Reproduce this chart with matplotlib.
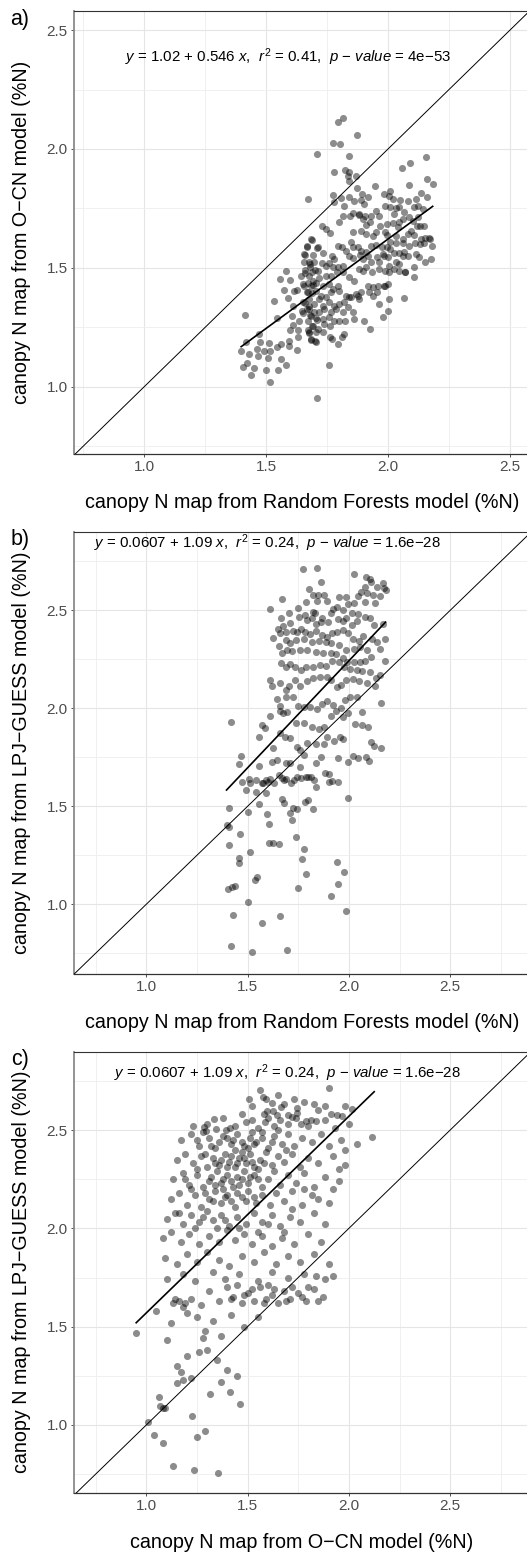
import matplotlib
matplotlib.use("Agg")
import matplotlib.pyplot as plt
from matplotlib.ticker import MultipleLocator

plt.rcParams['font.family'] = ['Liberation Sans', 'DejaVu Sans']
plt.rcParams['mathtext.fontset'] = 'custom'
plt.rcParams['mathtext.rm'] = 'Liberation Sans'
plt.rcParams['mathtext.it'] = 'Liberation Sans:italic'

# ---------------- panel a: Random Forests (x) vs O-CN (y) ----------------
a_pts = [
    (1.709, 1.98), (1.673, 1.791), (1.414, 1.303), (1.398, 1.153), (1.417, 1.188), (1.462, 1.16),
    (1.474, 1.19), (1.471, 1.221), (1.429, 1.137), (1.406, 1.085), (1.421, 1.099), (1.44, 1.05),
    (1.449, 1.078), (1.466, 1.132), (1.5, 1.069), (1.507, 1.12), (1.516, 1.02), (1.514, 1.183),
    (1.492, 1.153), (1.516, 1.153), (1.551, 1.071), (1.561, 1.118), (1.546, 1.167), (1.583, 1.092),
    (1.626, 1.155), (1.596, 1.172), (1.593, 1.195), (1.56, 1.179), (1.544, 1.289), (1.533, 1.363),
    (1.557, 1.454), (1.582, 1.487), (1.574, 1.406), (1.598, 1.448), (1.592, 1.374), (1.628, 1.408),
    (1.616, 1.402), (1.612, 1.338), (1.608, 1.296), (1.634, 1.279), (1.598, 1.239), (1.612, 1.261),
    (1.63, 1.239), (1.633, 1.211), (1.65, 1.31), (1.668, 1.328), (1.68, 1.303), (1.66, 1.354),
    (1.678, 1.338), (1.667, 1.401), (1.687, 1.394), (1.657, 1.426), (1.673, 1.438), (1.694, 1.429),
    (1.66, 1.478), (1.68, 1.506), (1.701, 1.492), (1.66, 1.555), (1.68, 1.517), (1.669, 1.59),
    (1.69, 1.618), (1.71, 1.583), (1.673, 1.239), (1.687, 1.258), (1.708, 1.282), (1.705, 1.19),
    (1.686, 1.197), (1.676, 1.225), (1.71, 0.955),
    (1.796, 2.115), (1.815, 2.129), (1.872, 2.06), (1.775, 2.025), (1.803, 2.02), (1.842, 1.972),
    (1.78, 1.905), (1.825, 1.913), (1.842, 1.905), (1.835, 1.885), (1.842, 1.867), (1.869, 1.885),
    (1.948, 1.846), (1.775, 1.808), (1.807, 1.793), (1.777, 1.776), (1.842, 1.798), (1.862, 1.783),
    (1.872, 1.835), (1.892, 1.811), (1.919, 1.798), (1.889, 1.787), (1.903, 1.769), (1.82, 1.759),
    (1.858, 1.73), (1.814, 1.72), (1.846, 1.72), (1.883, 1.727), (1.906, 1.717), (1.93, 1.72),
    (1.951, 1.739), (1.964, 1.72), (1.985, 1.811), (2.008, 1.825), (2.003, 1.804), (2.019, 1.79),
    (2.051, 1.787), (2.081, 1.782), (2.115, 1.79), (2.092, 1.94), (2.056, 1.92), (2.085, 1.849),
    (2.156, 1.968), (2.158, 1.874), (2.183, 1.852), (2.135, 1.815), (2.16, 1.8), (2.108, 1.755),
    (2.124, 1.759), (2.142, 1.748), (1.989, 1.759), (2.01, 1.755), (2.033, 1.751), (2.046, 1.755),
    (2.067, 1.734), (2.026, 1.727), (2.06, 1.706), (2.087, 1.713), (2.101, 1.699), (2.124, 1.716),
    (2.146, 1.675), (2.117, 1.675), (2.094, 1.657), (2.131, 1.678), (1.798, 1.692), (1.883, 1.723),
    (1.896, 1.706), (1.926, 1.692), (1.91, 1.681), (1.967, 1.678), (1.995, 1.683), (2.019, 1.689),
    (2.046, 1.692), (2.04, 1.671), (1.728, 1.675), (1.746, 1.664), (1.762, 1.647), (1.684, 1.622),
    (1.855, 1.65), (1.889, 1.657), (1.91, 1.643), (1.94, 1.636), (1.951, 1.65), (1.989, 1.65),
    (1.995, 1.64), (2.033, 1.636), (2.06, 1.622), (2.081, 1.643), (2.108, 1.639), (2.135, 1.622),
    (2.15, 1.625), (2.172, 1.622), (1.667, 1.594), (1.712, 1.587), (1.732, 1.563), (1.657, 1.559),
    (1.691, 1.555), (1.794, 1.594), (1.811, 1.587), (1.769, 1.552), (1.78, 1.538), (1.828, 1.573),
    (1.849, 1.608), (1.855, 1.587), (1.876, 1.587), (1.889, 1.573), (1.91, 1.566), (1.93, 1.594),
    (1.951, 1.597), (1.975, 1.587), (1.995, 1.587), (2.008, 1.608), (2.033, 1.605), (2.063, 1.605),
    (2.087, 1.594), (2.112, 1.605), (2.131, 1.601), (2.149, 1.605), (2.169, 1.625), (2.18, 1.594),
    (1.657, 1.524), (1.678, 1.524), (1.698, 1.524), (1.728, 1.521), (1.661, 1.492), (1.689, 1.481),
    (1.712, 1.488), (1.746, 1.51), (1.76, 1.521), (1.773, 1.503), (1.794, 1.503), (1.815, 1.51),
    (1.842, 1.552), (1.855, 1.541), (1.885, 1.555), (1.896, 1.538), (1.916, 1.552), (1.93, 1.527),
    (1.953, 1.544), (1.978, 1.559), (1.998, 1.546), (2.008, 1.58), (2.026, 1.563), (2.046, 1.563),
    (2.06, 1.549), (2.033, 1.524), (2.046, 1.517), (2.067, 1.569), (2.081, 1.551), (2.115, 1.559),
    (2.126, 1.548), (2.153, 1.527), (2.176, 1.537), (2.108, 1.506), (1.643, 1.468), (1.678, 1.468),
    (1.691, 1.447), (1.719, 1.457), (1.746, 1.468), (1.766, 1.468), (1.789, 1.482), (1.815, 1.482),
    (1.842, 1.461), (1.862, 1.447), (1.88, 1.496), (1.896, 1.489), (1.91, 1.503), (1.935, 1.485),
    (1.964, 1.496), (1.989, 1.489), (2.005, 1.482), (2.026, 1.496), (2.046, 1.489), (2.071, 1.485),
    (1.964, 1.524), (1.985, 1.552), (2.005, 1.51), (1.65, 1.433), (1.684, 1.426), (1.705, 1.437),
    (1.732, 1.426), (1.76, 1.433), (1.773, 1.412), (1.794, 1.426), (1.671, 1.398), (1.705, 1.405),
    (1.725, 1.384), (1.746, 1.377), (1.766, 1.398), (1.801, 1.405), (1.828, 1.384), (1.849, 1.377),
    (1.876, 1.384), (1.889, 1.398), (1.916, 1.426), (1.937, 1.419), (1.958, 1.426), (1.985, 1.426),
    (1.998, 1.433), (1.65, 1.356), (1.678, 1.37), (1.698, 1.349), (1.719, 1.37), (1.732, 1.342),
    (1.76, 1.356), (1.78, 1.342), (1.801, 1.349), (1.821, 1.356), (1.842, 1.377), (1.869, 1.391),
    (1.883, 1.37), (1.648, 1.321), (1.678, 1.328), (1.698, 1.314), (1.719, 1.314), (1.739, 1.328),
    (1.766, 1.314), (1.787, 1.328), (1.814, 1.314), (1.835, 1.335), (1.855, 1.314), (1.684, 1.3),
    (1.705, 1.289), (1.732, 1.286), (1.76, 1.293), (1.671, 1.279), (1.691, 1.258), (1.712, 1.244),
    (1.739, 1.265), (1.762, 1.258), (1.78, 1.275), (1.798, 1.279), (1.825, 1.279), (1.862, 1.286),
    (1.903, 1.275), (1.926, 1.244), (1.964, 1.349), (1.999, 1.318), (1.978, 1.293), (2.003, 1.37),
    (1.678, 1.23), (1.705, 1.23), (1.732, 1.23), (1.684, 1.202), (1.702, 1.195), (1.77, 1.202),
    (1.811, 1.209), (1.821, 1.223), (1.796, 1.181), (1.764, 1.209), (1.76, 1.09), (2.064, 1.373),
    (1.923, 1.398), (1.94, 1.384), (1.954, 1.398), (1.989, 1.426), (2.071, 1.482), (2.108, 1.461),
]
a_x = [p[0] for p in a_pts]
a_y = [p[1] for p in a_pts]
a_fit_x = [1.398, 2.183]
a_fit_y = [1.169, 1.759]
a_eq = r'$\it{y}$ = 1.02 + 0.546 $\it{x}$,  $\it{r}^{2}$ = 0.41,  $\it{p}$ − $\it{value}$ = 4e−53'

# ---------------- panel b: Random Forests (x) vs LPJ-GUESS (y) ----------------
b_pts = [
    (1.862, 2.646), (1.671, 2.558), (1.801, 2.607), (1.824, 2.58), (1.849, 2.578), (1.877, 2.58),
    (1.788, 2.544), (1.844, 2.549), (1.89, 2.549), (1.949, 2.57), (1.984, 2.566), (2.026, 2.536),
    (2.079, 2.621), (2.109, 2.646), (2.169, 2.641), (2.137, 2.617), (2.181, 2.604), (2.062, 2.595),
    (2.089, 2.59), (2.117, 2.58), (2.153, 2.575), (2.13, 2.539), (2.082, 2.544), (2.046, 2.573),
    (1.609, 2.505), (1.704, 2.485), (1.747, 2.51), (1.755, 2.468), (1.781, 2.478), (1.821, 2.491),
    (1.832, 2.485), (1.791, 2.449), (1.923, 2.505), (1.939, 2.515), (1.969, 2.502), (1.997, 2.532),
    (2.016, 2.488), (2.044, 2.48), (2.079, 2.464), (2.104, 2.461), (2.125, 2.423), (2.169, 2.432),
    (2.038, 2.447), (2.016, 2.425), (1.988, 2.463), (1.972, 2.446), (1.944, 2.456), (1.913, 2.485),
    (1.895, 2.442), (1.868, 2.461), (1.863, 2.442), (1.839, 2.432), (1.817, 2.459), (1.663, 2.461),
    (1.707, 2.434), (1.676, 2.42), (1.648, 2.406), (1.66, 2.383), (1.692, 2.391), (1.725, 2.396),
    (1.745, 2.389), (1.762, 2.405), (1.785, 2.389), (1.808, 2.379), (1.837, 2.396), (1.865, 2.374),
    (1.89, 2.366), (1.916, 2.383), (1.942, 2.391), (1.969, 2.4), (1.997, 2.383), (2.021, 2.355),
    (2.049, 2.345), (2.069, 2.369), (2.112, 2.352), (2.14, 2.338), (2.178, 2.355), (1.623, 2.359),
    (1.656, 2.318), (1.692, 2.349), (1.709, 2.335), (1.738, 2.349), (1.778, 2.352), (1.816, 2.34),
    (1.854, 2.342), (1.885, 2.34), (1.914, 2.332), (1.949, 2.325), (1.985, 2.298), (2.026, 2.304),
    (2.054, 2.315), (2.089, 2.298), (2.153, 2.301), (2.179, 2.241), (1.668, 2.281), (1.696, 2.298),
    (1.717, 2.291), (1.758, 2.298), (1.791, 2.298), (1.84, 2.289), (1.873, 2.281), (1.91, 2.281),
    (1.936, 2.277), (1.969, 2.257), (1.993, 2.236), (2.023, 2.235), (2.054, 2.238), (2.079, 2.243),
    (2.109, 2.264), (1.664, 2.233), (1.688, 2.213), (1.709, 2.226), (1.732, 2.209), (1.766, 2.196),
    (1.788, 2.209), (1.821, 2.213), (1.857, 2.221), (1.885, 2.216), (1.919, 2.243), (1.952, 2.236),
    (1.977, 2.213), (2.005, 2.201), (2.041, 2.196), (2.064, 2.189), (2.102, 2.187), (2.135, 2.156),
    (2.153, 2.17), (1.61, 2.145), (1.62, 2.114), (1.66, 2.128), (1.689, 2.094), (1.706, 2.114),
    (1.735, 2.145), (1.758, 2.114), (1.794, 2.138), (1.824, 2.153), (1.857, 2.162), (1.893, 2.158),
    (1.914, 2.145), (1.939, 2.111), (1.962, 2.117), (1.988, 2.145), (2.018, 2.151), (2.049, 2.139),
    (2.09, 2.131), (2.128, 2.114), (1.646, 2.046), (1.66, 2.012), (1.692, 2.06), (1.725, 2.056),
    (1.747, 2.012), (1.778, 2.009), (1.808, 2.005), (1.844, 1.995), (1.865, 2.022), (1.89, 2.039),
    (1.924, 2.017), (1.961, 2.0), (1.98, 2.043), (2.005, 2.06), (2.038, 2.056), (2.067, 1.983),
    (2.158, 2.029), (1.418, 1.932), (1.569, 1.915), (1.586, 1.901), (1.61, 1.961), (1.658, 1.988),
    (1.676, 1.974), (1.696, 1.981), (1.74, 1.923), (1.778, 1.927), (1.817, 1.905), (1.854, 1.896),
    (1.878, 1.903), (1.91, 1.961), (1.936, 1.988), (1.969, 1.954), (1.997, 1.974), (2.028, 1.92),
    (2.063, 1.913), (2.095, 1.906), (1.558, 1.855), (1.66, 1.872), (1.686, 1.855), (1.709, 1.847),
    (1.742, 1.804), (1.758, 1.787), (1.794, 1.821), (1.84, 1.82), (1.877, 1.82), (1.89, 1.855),
    (1.926, 1.833), (1.956, 1.855), (1.969, 1.845), (2.109, 1.827), (2.125, 1.808), (2.16, 1.796),
    (1.467, 1.759), (1.459, 1.716), (1.556, 1.707), (1.627, 1.796), (1.62, 1.724), (1.643, 1.736),
    (1.692, 1.723), (1.709, 1.719), (1.758, 1.699), (1.778, 1.764), (1.799, 1.648), (1.836, 1.723),
    (1.86, 1.753), (1.883, 1.672), (1.903, 1.665), (1.944, 1.748), (1.998, 1.724), (2.021, 1.757),
    (2.044, 1.748), (2.084, 1.753), (2.1, 1.733), (1.472, 1.622), (1.492, 1.583), (1.507, 1.638),
    (1.512, 1.617), (1.543, 1.634), (1.541, 1.573), (1.571, 1.617), (1.577, 1.621), (1.59, 1.634),
    (1.602, 1.626), (1.589, 1.566), (1.613, 1.638), (1.63, 1.621), (1.653, 1.662), (1.669, 1.646),
    (1.681, 1.634), (1.692, 1.638), (1.714, 1.617), (1.729, 1.634), (1.742, 1.651), (1.763, 1.643),
    (1.786, 1.65), (1.811, 1.65), (1.826, 1.634), (1.839, 1.6), (1.9, 1.622), (1.916, 1.629),
    (1.944, 1.622), (1.997, 1.543), (1.41, 1.492), (1.503, 1.473), (1.556, 1.512), (1.668, 1.537),
    (1.681, 1.519), (1.709, 1.468), (1.725, 1.492), (1.745, 1.488), (1.785, 1.522), (1.796, 1.532),
    (1.822, 1.485), (1.396, 1.405), (1.406, 1.396), (1.594, 1.459), (1.604, 1.408), (1.462, 1.361),
    (1.41, 1.301), (1.512, 1.265), (1.607, 1.311), (1.627, 1.311), (1.655, 1.306), (1.737, 1.345),
    (1.72, 1.43), (1.459, 1.238), (1.456, 1.211), (1.548, 1.139), (1.778, 1.281), (1.771, 1.231),
    (1.786, 1.153), (1.941, 1.218), (1.977, 1.165), (1.403, 1.078), (1.423, 1.088), (1.437, 1.093),
    (1.536, 1.124), (1.748, 1.083), (1.946, 1.104), (1.911, 1.042), (1.501, 1.012), (1.985, 0.966),
    (1.427, 0.945), (1.659, 0.94), (1.57, 0.905), (1.418, 0.788), (1.521, 0.757), (1.694, 0.767),
    (1.773, 2.711), (1.842, 2.716), (2.025, 2.685), (2.084, 2.67), (2.104, 2.66), (2.175, 2.615),
]
b_x = [p[0] for p in b_pts]
b_y = [p[1] for p in b_pts]
b_fit_x = [1.396, 2.181]
b_fit_y = [1.583, 2.44]
b_eq = r'$\it{y}$ = 0.0607 + 1.09 $\it{x}$,  $\it{r}^{2}$ = 0.24,  $\it{p}$ − $\it{value}$ = 1.6e−28'

# ---------------- panel c: O-CN (x) vs LPJ-GUESS (y) ----------------
c_pts = [
    (1.9, 2.713), (1.561, 2.704), (1.648, 2.68), (1.506, 2.66), (1.577, 2.667), (1.59, 2.657),
    (1.618, 2.64), (1.78, 2.645), (1.664, 2.616), (1.594, 2.599), (1.626, 2.599), (1.646, 2.577),
    (1.697, 2.577), (1.72, 2.568), (1.745, 2.611), (1.745, 2.585), (1.849, 2.602), (1.911, 2.58),
    (1.939, 2.577), (1.964, 2.572), (2.016, 2.606), (1.335, 2.556), (1.492, 2.543), (1.585, 2.543),
    (1.786, 2.546), (1.766, 2.529), (1.811, 2.551), (1.84, 2.548), (1.286, 2.514), (1.293, 2.495),
    (1.342, 2.504), (1.391, 2.5), (1.413, 2.512), (2.112, 2.463),
    (1.153, 1.215), (1.179, 1.229), (1.368, 1.22), (1.061, 1.141), (1.314, 1.156), (1.413, 1.166),
    (1.067, 1.097), (1.08, 1.085), (1.092, 1.085), (1.462, 1.105), (1.227, 1.046), (1.009, 1.017),
    (1.039, 0.948), (1.083, 0.907), (1.289, 0.969), (1.251, 0.94), (1.13, 0.791), (1.235, 0.771),
    (1.355, 0.757),
    (1.52, 2.62), (1.68, 2.63), (1.73, 2.66), (1.83, 2.63), (1.88, 2.62), (1.98, 2.62),
    (1.30, 2.53), (1.38, 2.56), (1.44, 2.52), (1.47, 2.58), (1.52, 2.55), (1.55, 2.51), (1.6, 2.56),
    (1.63, 2.52), (1.66, 2.55), (1.7, 2.53), (1.74, 2.56), (1.8, 2.52), (1.88, 2.55), (1.93, 2.51),
    (2.0, 2.53), (1.23, 2.52), (1.58, 2.58),
    (1.17, 2.45), (1.22, 2.48), (1.26, 2.42), (1.31, 2.46), (1.34, 2.41), (1.38, 2.47), (1.42, 2.43),
    (1.45, 2.48), (1.48, 2.42), (1.51, 2.46), (1.54, 2.44), (1.57, 2.49), (1.6, 2.41), (1.63, 2.47),
    (1.67, 2.43), (1.7, 2.48), (1.73, 2.42), (1.77, 2.46), (1.82, 2.44), (1.86, 2.48), (1.9, 2.42),
    (1.96, 2.45), (2.04, 2.43), (1.44, 2.40), (1.52, 2.49),
    (1.15, 2.35), (1.19, 2.38), (1.23, 2.33), (1.27, 2.37), (1.3, 2.31), (1.33, 2.36), (1.36, 2.32),
    (1.39, 2.38), (1.41, 2.34), (1.44, 2.31), (1.46, 2.36), (1.49, 2.33), (1.51, 2.38), (1.53, 2.31),
    (1.56, 2.35), (1.59, 2.39), (1.62, 2.32), (1.65, 2.37), (1.68, 2.34), (1.72, 2.38), (1.76, 2.31),
    (1.8, 2.36), (1.85, 2.33), (1.92, 2.37), (1.98, 2.32), (1.47, 2.39), (1.55, 2.3), (1.42, 2.37),
    (1.13, 2.25), (1.18, 2.28), (1.21, 2.22), (1.25, 2.27), (1.28, 2.21), (1.32, 2.26), (1.35, 2.29),
    (1.37, 2.23), (1.4, 2.27), (1.43, 2.21), (1.45, 2.26), (1.48, 2.29), (1.5, 2.23), (1.53, 2.27),
    (1.57, 2.21), (1.6, 2.25), (1.63, 2.29), (1.66, 2.22), (1.7, 2.27), (1.74, 2.23), (1.78, 2.28),
    (1.83, 2.21), (1.88, 2.26), (1.95, 2.24), (1.38, 2.2), (1.46, 2.22),
    (1.12, 2.15), (1.16, 2.18), (1.2, 2.12), (1.24, 2.17), (1.27, 2.11), (1.31, 2.15), (1.34, 2.19),
    (1.37, 2.13), (1.4, 2.17), (1.44, 2.11), (1.47, 2.16), (1.5, 2.19), (1.54, 2.13), (1.57, 2.17),
    (1.61, 2.12), (1.64, 2.18), (1.68, 2.14), (1.72, 2.19), (1.77, 2.12), (1.82, 2.17), (1.9, 2.13),
    (1.42, 2.14),
    (1.1, 2.05), (1.14, 2.08), (1.18, 2.02), (1.22, 2.07), (1.26, 2.03), (1.3, 2.09), (1.33, 2.04),
    (1.37, 2.07), (1.41, 2.01), (1.45, 2.06), (1.49, 2.02), (1.53, 2.08), (1.57, 2.03), (1.62, 2.07),
    (1.66, 2.01), (1.71, 2.06), (1.76, 2.03), (1.83, 2.08), (1.88, 2.02), (1.35, 2.0),
    (1.08, 1.95), (1.12, 1.98), (1.17, 1.93), (1.21, 1.97), (1.26, 1.92), (1.31, 1.96), (1.36, 1.93),
    (1.4, 1.99), (1.44, 1.94), (1.48, 1.97), (1.52, 1.92), (1.57, 1.96), (1.62, 1.91), (1.67, 1.95),
    (1.73, 1.92), (1.8, 1.97), (1.86, 1.93),
    (1.09, 1.85), (1.15, 1.82), (1.2, 1.87), (1.25, 1.83), (1.3, 1.88), (1.36, 1.84), (1.41, 1.81),
    (1.47, 1.86), (1.53, 1.83), (1.58, 1.88), (1.64, 1.82), (1.7, 1.86), (1.76, 1.83), (1.83, 1.87),
    (1.9, 1.82),
    (1.1, 1.74), (1.18, 1.77), (1.24, 1.73), (1.33, 1.78), (1.39, 1.74), (1.46, 1.77), (1.55, 1.73),
    (1.62, 1.78), (1.7, 1.75), (1.78, 1.77), (1.84, 1.76), (1.88, 1.74), (1.92, 1.76),
    (1.13, 1.62), (1.16, 1.63), (1.19, 1.62), (1.22, 1.64), (1.27, 1.61), (1.31, 1.68), (1.36, 1.63),
    (1.4, 1.7), (1.43, 1.65), (1.47, 1.62), (1.5, 1.67), (1.53, 1.63), (1.56, 1.7), (1.59, 1.64),
    (1.62, 1.66), (1.65, 1.62), (1.68, 1.68), (1.71, 1.64), (1.75, 1.67), (1.79, 1.63), (1.83, 1.69),
    (1.87, 1.65), (1.45, 1.71), (1.6, 1.71),
    (1.05, 1.58), (1.12, 1.52), (1.2, 1.57), (1.25, 1.55), (1.29, 1.48), (1.33, 1.53), (1.37, 1.45),
    (1.42, 1.56), (1.48, 1.5), (1.1, 1.43), (1.28, 1.44), (1.55, 1.55), (0.95, 1.47),
    (1.15, 1.3), (1.17, 1.27), (1.2, 1.35), (1.3, 1.38), (1.35, 1.33), (1.4, 1.28), (1.45, 1.25),
    (1.22, 1.24), (1.26, 1.37),
    (1.32, 2.42), (1.36, 2.44), (1.4, 2.46), (1.43, 2.45), (1.47, 2.44), (1.5, 2.41), (1.53, 2.43),
    (1.29, 2.38), (1.34, 2.33), (1.37, 2.35), (1.4, 2.31), (1.45, 2.33), (1.48, 2.36), (1.52, 2.34),
    (1.58, 2.33), (1.31, 2.24), (1.34, 2.22), (1.38, 2.25), (1.42, 2.24), (1.47, 2.25), (1.51, 2.26),
    (1.55, 2.25), (1.29, 2.18), (1.33, 2.14), (1.39, 2.16), (1.45, 2.18), (1.49, 2.14), (1.53, 2.16),
    (1.25, 2.45), (1.28, 2.49), (1.57, 2.46), (1.62, 2.44), (1.65, 2.5), (1.69, 2.4), (1.25, 2.3),
    (1.22, 2.2), (1.19, 2.25), (1.16, 2.08), (1.24, 2.0), (1.28, 2.06), (1.39, 2.04), (1.46, 2.0),
    (1.55, 1.98), (1.6, 2.02), (1.68, 1.98), (1.72, 2.1), (1.78, 2.2), (1.85, 2.15), (1.92, 2.2),
    (1.95, 2.3), (1.98, 2.4),
    (1.42, 1.64), (1.48, 1.66), (1.52, 1.69), (1.58, 1.62), (1.63, 1.69), (1.69, 1.63), (1.72, 1.7),
    (1.77, 1.65), (1.8, 1.7), (1.85, 1.63), (1.14, 1.64), (1.18, 1.6),
]
c_x = [p[0] for p in c_pts]
c_y = [p[1] for p in c_pts]
c_fit_x = [0.95, 2.125]
c_fit_y = [1.52, 2.695]
c_eq = b_eq

x_titles = ['canopy N map from Random Forests model (%N)',
            'canopy N map from Random Forests model (%N)',
            'canopy N map from O−CN model (%N)']
y_titles = ['canopy N map from O−CN model (%N)',
            'canopy N map from LPJ−GUESS model (%N)',
            'canopy N map from LPJ−GUESS model (%N)']
panel_tags = ['a)', 'b)', 'c)']
ticks = [1.0, 1.5, 2.0, 2.5]

# ---------------- layout (pixels) ----------------
W, H = 527, 1554
fig = plt.figure(figsize=(W / 100, H / 100), dpi=100)

def frac_box(left, top, width, height):
    return [left / W, 1 - (top + height) / H, width / W, height / H]

boxes = [frac_box(74, 11, 458, 443), frac_box(74, 532, 458, 442), frac_box(74, 1052, 458, 441)]
xlims = [(0.713, 2.59), (0.643, 2.904), (0.643, 2.904)]
ylims = [(0.718, 2.58), (0.644, 2.90), (0.654, 2.897)]
eq_pos = [(1.59, 2.387), (1.6, 2.843), (1.697, 2.79)]
xt_y = [503, 1023, 1542]
yt_y = [232, 753, 1272]
tag_y = [19, 540, 1060]

data = [(a_x, a_y, a_fit_x, a_fit_y, a_eq),
        (b_x, b_y, b_fit_x, b_fit_y, b_eq),
        (c_x, c_y, c_fit_x, c_fit_y, c_eq)]

for i, (xs, ys, fx, fy, eq) in enumerate(data):
    ax = fig.add_axes(boxes[i])
    ax.set_xlim(*xlims[i])
    ax.set_ylim(*ylims[i])
    ax.set_facecolor('white')
    ax.xaxis.set_minor_locator(MultipleLocator(0.25))
    ax.yaxis.set_minor_locator(MultipleLocator(0.25))
    ax.set_xticks(ticks)
    ax.set_yticks(ticks)
    ax.set_xticklabels(['%.1f' % t for t in ticks])
    ax.set_yticklabels(['%.1f' % t for t in ticks])
    ax.grid(which='major', color='#e5e5e5', linewidth=0.8, zorder=0)
    ax.grid(which='minor', color='#eeeeee', linewidth=0.6, zorder=0)
    ax.set_axisbelow(True)
    ax.tick_params(which='major', length=2.5, width=0.6, color='#333333',
                   labelsize=11, labelcolor='#4d4d4d', pad=2)
    ax.tick_params(which='minor', length=0)
    ax.spines['right'].set_visible(False)
    ax.spines['top'].set_color('#333333')
    ax.spines['top'].set_linewidth(0.8)
    ax.spines['bottom'].set_color('#333333')
    ax.spines['bottom'].set_linewidth(0.9)
    ax.spines['left'].set_color('#8a8a8a')
    ax.spines['left'].set_linewidth(1.3)

    ax.scatter(xs, ys, s=26, color='black', alpha=0.45, linewidths=0, zorder=2)
    ax.axline((1.0, 1.0), slope=1, color='black', linewidth=0.7, zorder=3)
    ax.plot(fx, fy, color='black', linewidth=1.2, zorder=4)
    ax.text(eq_pos[i][0], eq_pos[i][1], eq, ha='center', va='center', fontsize=10.8,
            color='black', zorder=5)

    fig.text(302 / W, 1 - xt_y[i] / H, x_titles[i], ha='center', va='center', fontsize=14.2)
    fig.text(22 / W, 1 - yt_y[i] / H, y_titles[i], ha='center', va='center', fontsize=14.2,
             rotation=90)
    fig.text(20 / W, 1 - tag_y[i] / H, panel_tags[i], ha='center', va='center', fontsize=15.5)

fig.savefig('out.png', dpi=100)
